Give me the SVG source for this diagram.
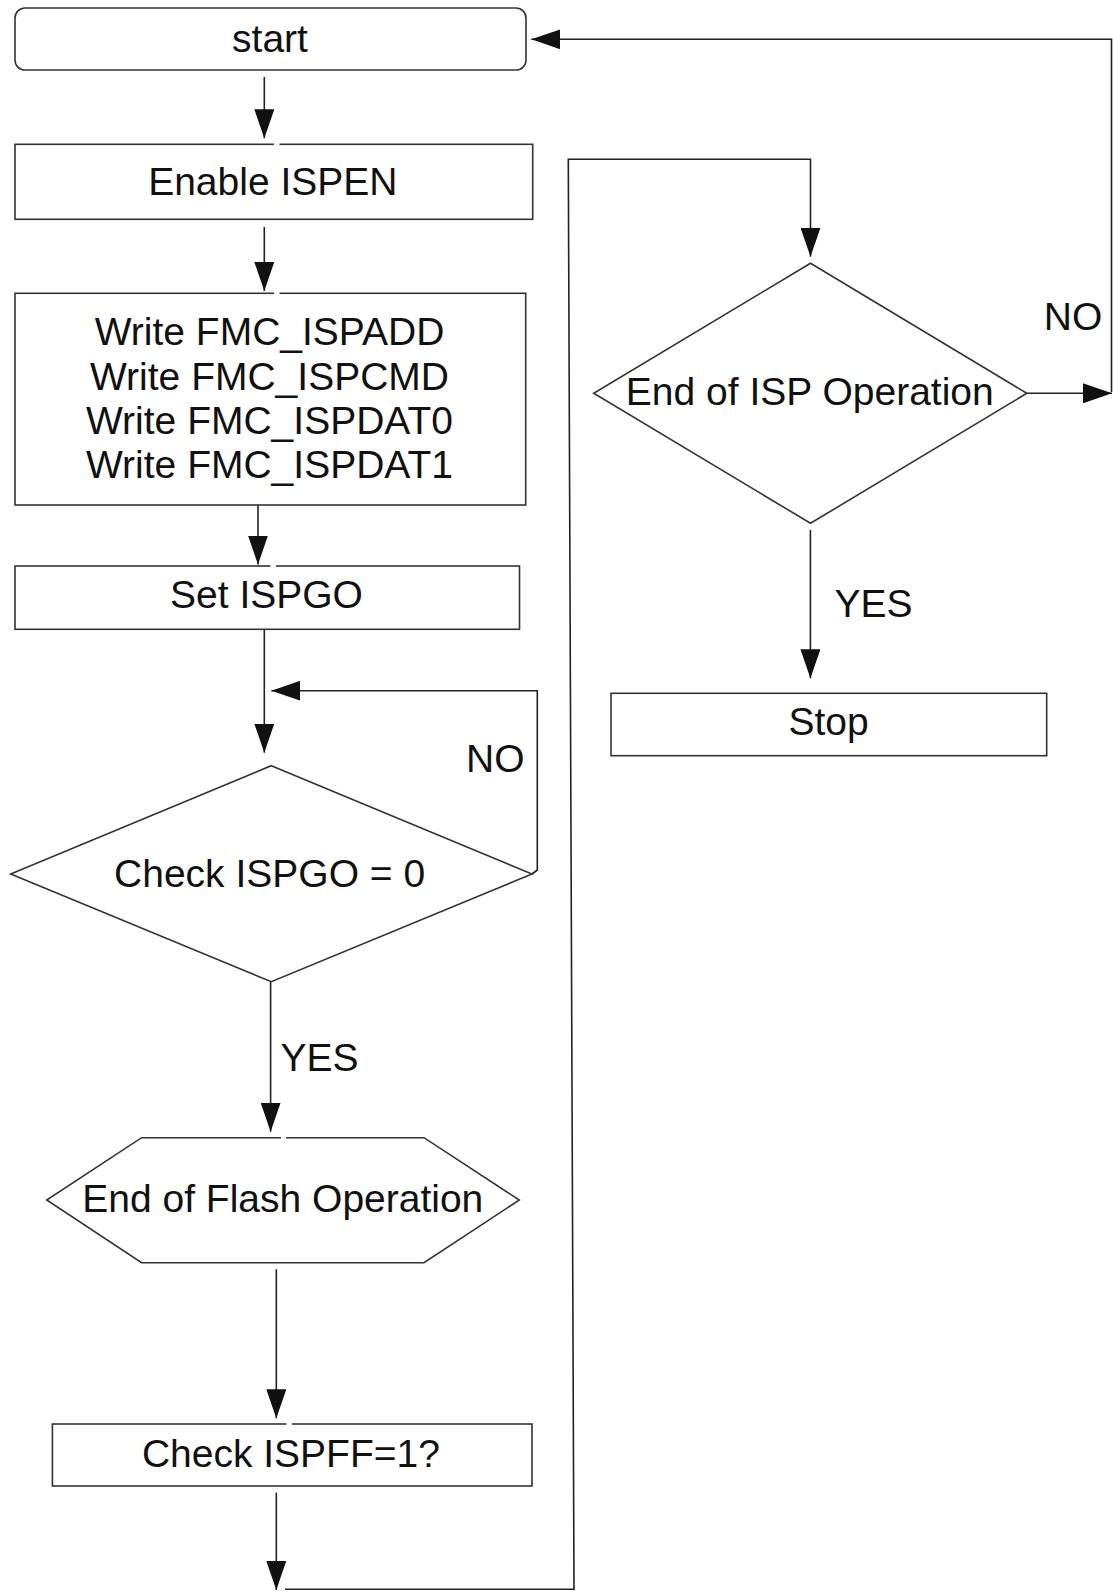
<svg xmlns="http://www.w3.org/2000/svg" width="1113" height="1591" viewBox="0 0 1113 1591">
  <style>
    .box { fill: #fff; stroke: #333; stroke-width: 1.6; }
    .gap { stroke: #fff; stroke-width: 3; }
    .wire { fill: none; stroke: #222; stroke-width: 1.6; }
    .arrow { marker-end: url(#head); }
    text { font-family: "Liberation Sans", Arial, sans-serif; font-size: 39px; fill: #111; }
    .mid { text-anchor: middle; }
  </style>
  <defs>
    <marker id="head" markerUnits="userSpaceOnUse" markerWidth="29" markerHeight="20" refX="29" refY="10" orient="auto">
      <path d="M0,0 L29,10 L0,20 z" fill="#111"/>
    </marker>
  </defs>
  <rect width="1113" height="1591" fill="#fff"/>

  <!-- connectors -->
  <g id="connectors">
    <path class="wire arrow" d="M264.3,77 V138.3"/>
    <path class="wire arrow" d="M264.3,227 V291"/>
    <path class="wire arrow" d="M258,505 V564.5"/>
    <path class="wire arrow" d="M264.3,629.3 V752.7"/>
    <path class="wire arrow" d="M532,874 L537.3,870 V690.7 H271.3"/>
    <path class="wire arrow" d="M270.6,981.7 V1131.7"/>
    <path class="wire arrow" d="M276.3,1269.3 V1418.3"/>
    <path class="wire arrow" d="M276.3,1492.7 V1590"/>
    <path class="wire arrow" d="M285,1589.3 H574 L568.3,159.3 H810.5 V256.7"/>
    <path class="wire arrow" d="M810.4,530 V678.3"/>
    <path class="wire arrow" d="M1026.8,393.3 H1112"/>
    <path class="wire arrow" d="M1111.5,392 V39.3 H531.3"/>
    <text x="466" y="771.7">NO</text>
    <text x="280.5" y="1071">YES</text>
    <text x="1043.8" y="330">NO</text>
    <text x="834.4" y="617.3">YES</text>
  </g>

  <!-- nodes (small breaks in the top edges sit at the glue points) -->
  <g id="start">
    <rect class="box" x="15" y="8" width="511" height="62" rx="10"/>
    <text class="mid" x="270" y="51.7">start</text>
  </g>
  <g id="enable-ispen">
    <rect class="box" x="15" y="144.3" width="517.7" height="75"/>
    <line class="gap" x1="274" y1="144.3" x2="279.5" y2="144.3"/>
    <text class="mid" x="272.8" y="195">Enable ISPEN</text>
  </g>
  <g id="write-registers">
    <rect class="box" x="15" y="293.3" width="510.7" height="211.7"/>
    <line class="gap" x1="274" y1="293.3" x2="279.5" y2="293.3"/>
    <text class="mid" x="269.5" y="345">Write FMC_ISPADD</text>
    <text class="mid" x="269.5" y="390">Write FMC_ISPCMD</text>
    <text class="mid" x="269.5" y="434">Write FMC_ISPDAT0</text>
    <text class="mid" x="269.5" y="478.3">Write FMC_ISPDAT1</text>
  </g>
  <g id="set-ispgo">
    <rect class="box" x="15" y="566" width="504.5" height="63.3"/>
    <line class="gap" x1="270.5" y1="566" x2="276" y2="566"/>
    <text class="mid" x="266.5" y="608.3">Set ISPGO</text>
  </g>
  <g id="check-ispgo">
    <polygon class="box" points="271.3,765.7 532,874 271.3,981.7 10.7,874"/>
    <text class="mid" x="269.6" y="886.7">Check ISPGO = 0</text>
  </g>
  <g id="end-of-flash">
    <polygon class="box" points="141.6,1137.7 424,1137.7 519.3,1200 424,1262.7 141.6,1262.7 46.7,1200"/>
    <line class="gap" x1="281" y1="1137.7" x2="286" y2="1137.7"/>
    <text class="mid" x="282.8" y="1212.3">End of Flash Operation</text>
  </g>
  <g id="check-ispff">
    <rect class="box" x="52.4" y="1424" width="479.6" height="62"/>
    <line class="gap" x1="286.5" y1="1424" x2="292" y2="1424"/>
    <text class="mid" x="290.9" y="1466.7">Check ISPFF=1?</text>
  </g>
  <g id="end-of-isp">
    <polygon class="box" points="810.5,263.3 1026.8,393.3 810.5,523.3 593.7,393.3"/>
    <text class="mid" x="809.8" y="405">End of ISP Operation</text>
  </g>
  <g id="stop">
    <rect class="box" x="611" y="693.3" width="435.7" height="62.4"/>
    <text class="mid" x="828.6" y="735">Stop</text>
  </g>
</svg>
